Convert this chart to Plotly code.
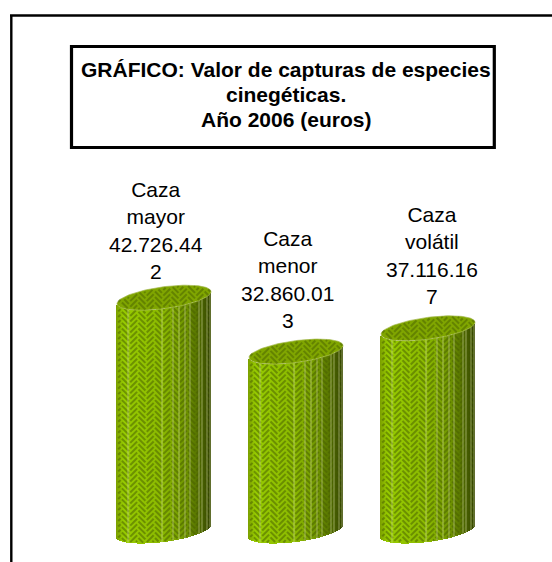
import numpy as np
import plotly.graph_objects as go

# ---- data ----
categories = ["Caza<br>mayor", "Caza<br>menor", "Caza<br>volátil"]
values = [42726442, 32860013, 37116167]
value_labels = ["42.726.44<br>2", "32.860.01<br>3", "37.116.16<br>7"]
title_lines = ["GRÁFICO: Valor de capturas de especies", "cinegéticas.", "Año 2006 (euros)"]

# ---- geometry (pixels of the 552x562 page) ----
W, H = 552, 562
X0_PX, STEP_PX = 164.0, 132.0      # centre of first cylinder, spacing
BASE_PX = 531.0                    # y pixel of value 0
PX_PER_UNIT = 5.46e-6              # pixels per euro
HALF_W = 47.0
TILT, MINOR = 6.0, 11.0
LABEL_DX = [-8, -8.5, 4]
LABEL_DY = [67, 72.5, 73]
TITLE_Y = [69, 94.5, 119.5]
SEAMS = [-36, -2, 9, 15, 21, 26, 35, 38, 43, 46]   # light seams on the cylinders


def ux(px):
    return px / STEP_PX


def uy(px):
    return px / PX_PER_UNIT


x_range = [-X0_PX / STEP_PX, (W - X0_PX) / STEP_PX]
y_range = [-uy(H - BASE_PX), uy(BASE_PX)]


def lower(dx):
    c = np.clip(dx / HALF_W, -1, 1)
    return TILT * c - MINOR * np.sqrt(1 - c ** 2)


def upper(dx):
    c = np.clip(dx / HALF_W, -1, 1)
    return TILT * c + MINOR * np.sqrt(1 - c ** 2)


def shade(f):
    """f: 0 left .. 1 right of the cylinder -> body colour"""
    stops = [(0.0, (124, 160, 0)), (0.08, (152, 204, 0)), (0.5, (140, 186, 0)),
             (0.75, (112, 148, 0)), (0.9, (80, 106, 0)), (1.0, (50, 66, 0))]
    for (a, ca), (b, cb) in zip(stops, stops[1:]):
        if f <= b:
            m = (f - a) / (b - a)
            return "rgb(%d,%d,%d)" % tuple(ca[i] + (cb[i] - ca[i]) * m for i in range(3))
    return "rgb(50,66,0)"


def weave(x_lo, x_hi, y_lo, y_hi, clip):
    """Herringbone brick strokes (pixels around the cylinder), clipped by clip(x, y)."""
    u = 3.9
    r = np.sqrt(0.5)
    xs, ys = [], []
    span = int(max(x_hi - x_lo, y_hi - y_lo) * 1.5 / u) + 8
    tt = np.linspace(0, 1, 7)
    for k in range(-span, span):
        for m in range(-span // 6 - 2, span // 6 + 3):
            for kind in (0, 1):
                if kind == 0:
                    a = k + 6 * m + tt * 2.5 + 0.25
                    b = k + 0.5 + 0 * tt
                else:
                    a = k + 3.5 + 6 * m + 0 * tt
                    b = k - 2 + tt * 2.5 + 0.25
                px = (a - b) * r * u + (x_lo + x_hi) / 2
                py = (a + b) * r * u + (y_lo + y_hi) / 2
                if px.max() < x_lo or px.min() > x_hi or py.max() < y_lo or py.min() > y_hi:
                    continue
                run = False
                for p, q in zip(px, py):
                    if clip(p, q):
                        xs.append(p)
                        ys.append(q)
                        run = True
                    elif run:
                        xs.append(None)
                        ys.append(None)
                        run = False
                if run:
                    xs.append(None)
                    ys.append(None)
    return xs, ys


fig = go.Figure()
strip_px = np.arange(-HALF_W + 0.5, HALF_W, 1.0)

for i, v in enumerate(values):
    h = v * PX_PER_UNIT
    # body shading in 1 px strips
    fig.add_trace(go.Bar(
        x=[i + ux(s) for s in strip_px],
        y=[v] * len(strip_px),
        base=[uy(lower(s)) for s in strip_px],
        width=[ux(1.02)] * len(strip_px),
        marker=dict(color=[shade((s + HALF_W) / (2 * HALF_W)) for s in strip_px], line_width=0),
        showlegend=False, hoverinfo="skip"))

    # herringbone on body
    def clip_body(a, b, h=h):
        return abs(a) < HALF_W - 0.6 and lower(a) + 0.6 <= b <= lower(a) + h

    wx, wy = weave(-HALF_W, HALF_W, -20, h + 14, clip_body)
    fig.add_trace(go.Scatter(
        x=[None if a is None else i + ux(a) for a in wx],
        y=[None if b is None else uy(b) for b in wy],
        mode="lines", line=dict(color="rgba(70,92,0,0.5)", width=2.0),
        showlegend=False, hoverinfo="skip"))

    # light seams
    sx, sy = [], []
    for s in SEAMS:
        sx += [i + ux(s), i + ux(s), None]
        sy += [uy(lower(s)), v + uy(lower(s)), None]
    fig.add_trace(go.Scatter(x=sx, y=sy, mode="lines",
                             line=dict(color="rgba(215,222,165,0.55)", width=1),
                             showlegend=False, hoverinfo="skip"))

    # top ellipse
    t = np.linspace(0, 2 * np.pi, 120)
    ex, ey = HALF_W * np.cos(t), TILT * np.cos(t) + MINOR * np.sin(t)
    fig.add_trace(go.Scatter(
        x=i + ux(ex), y=v + uy(ey), mode="lines", fill="toself",
        fillcolor="rgb(128,166,0)", line=dict(color="rgb(165,185,80)", width=0.7),
        showlegend=False, hoverinfo="skip"))

    def clip_top(a, b):
        return abs(a) < HALF_W and lower(a) + 0.7 <= b <= upper(a) - 0.7

    wx, wy = weave(-HALF_W, HALF_W, -20, 20, clip_top)
    fig.add_trace(go.Scatter(
        x=[None if a is None else i + ux(a) for a in wx],
        y=[None if b is None else v + uy(b) for b in wy],
        mode="lines", line=dict(color="rgba(76,102,0,0.55)", width=2.0),
        showlegend=False, hoverinfo="skip"))

    # data label
    fig.add_annotation(x=i + ux(LABEL_DX[i]), y=v + uy(LABEL_DY[i]), xref="x", yref="y",
                       yanchor="middle", xanchor="center", showarrow=False,
                       text=categories[i] + "<br>" + value_labels[i],
                       font=dict(family="Liberation Sans, Arial", size=21, color="black"),
                       align="center")

# title box and outer frame
shapes = [
    dict(type="line", xref="paper", yref="paper", x0=11.3 / W, x1=11.3 / W,
         y0=0, y1=1 - 15.5 / H, line=dict(color="black", width=2.4)),
    dict(type="line", xref="paper", yref="paper", x0=10 / W, x1=1,
         y0=1 - 15.5 / H, y1=1 - 15.5 / H, line=dict(color="black", width=2.4)),
    dict(type="rect", xref="paper", yref="paper", x0=71.5 / W, x1=494.3 / W,
         y0=1 - 147.5 / H, y1=1 - 46.5 / H, line=dict(color="black", width=3.2)),
]
for line, y_px in zip(title_lines, TITLE_Y):
    fig.add_annotation(xref="paper", yref="paper", x=286 / W, y=1 - y_px / H,
                       xanchor="center", yanchor="middle", showarrow=False,
                       text="<b>" + line + "</b>",
                       font=dict(family="Liberation Sans, Arial", size=21, color="black"))

fig.update_layout(
    width=W, height=H, margin=dict(l=0, r=0, t=0, b=0), paper_bgcolor="white",
    plot_bgcolor="white", barmode="overlay", bargap=0, shapes=shapes, showlegend=False,
    xaxis=dict(range=x_range, visible=False, fixedrange=True),
    yaxis=dict(range=y_range, visible=False, fixedrange=True),
)
fig.write_html("out.html", config={"displayModeBar": False},
               post_script="document.body.style.margin='0';")
